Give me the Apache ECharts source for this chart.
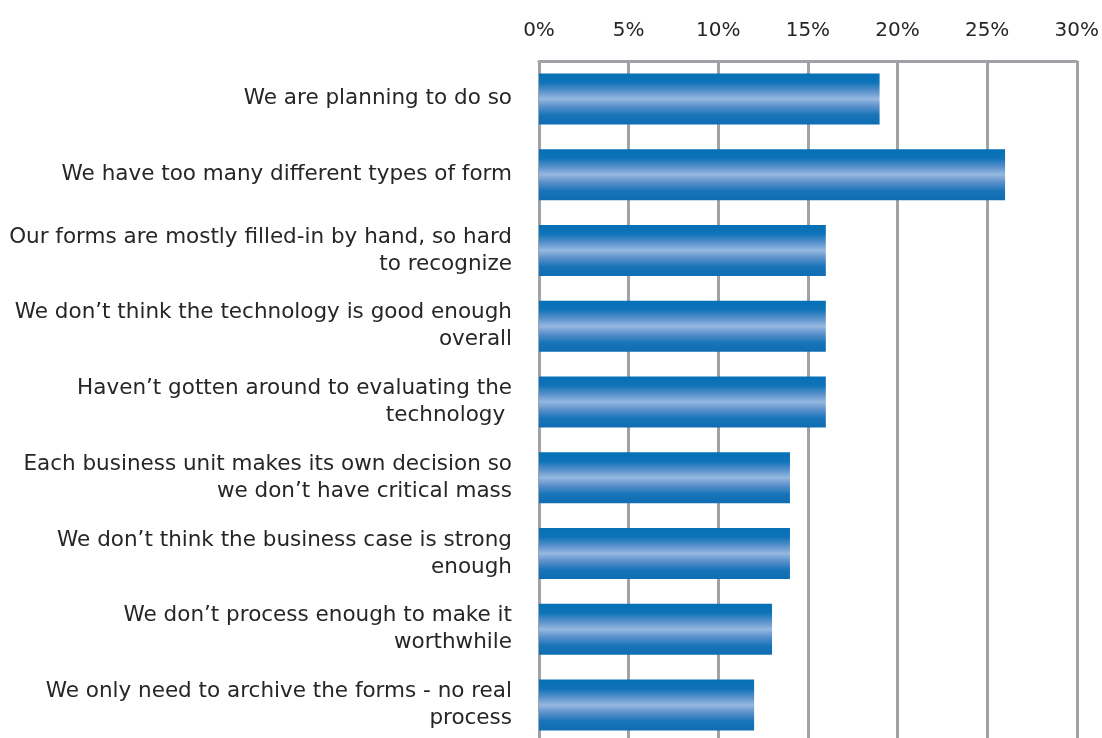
<!DOCTYPE html>
<html>
<head>
<meta charset="utf-8">
<script src="https://cdn.jsdelivr.net/npm/echarts@6/dist/echarts.min.js"></script>
<style>
  html, body { margin: 0; padding: 0; background: #ffffff; overflow: hidden; }
  #chart { width: 1102px; height: 743px; }
</style>
</head>
<body>
<div id="chart"></div>
<script>
// Reasons for not adopting forms processing technology (share of respondents, %)
const categories = [
  'We are planning to do so',
  'We have too many different types of form',
  'Our forms are mostly filled-in by hand, so hard\nto recognize',
  'We don\u2019t think the technology is good enough\noverall',
  'Haven\u2019t gotten around to evaluating the\ntechnology ',
  'Each business unit makes its own decision so\nwe don\u2019t have critical mass',
  'We don\u2019t think the business case is strong\nenough',
  'We don\u2019t process enough to make it\nworthwhile',
  'We only need to archive the forms - no real\nprocess'
];
const values = [19, 26, 16, 16, 16, 14, 14, 13, 12];
const axisMin = 0;
const axisMax = 30;
const axisStep = 5;

const gridGray = '#9fa3a8';
const textColor = '#262626';
const fontFamily = '"DejaVu Sans", "Open Sans", sans-serif';

// Glossy cylinder look: dark blue edges fading to a pale band in the middle
const barFill = new echarts.graphic.LinearGradient(0, 0, 0, 1, [
  { offset: 0, color: '#0570b6' },
  { offset: 0.18, color: '#0f73b8' },
  { offset: 0.35, color: '#5a92cc' },
  { offset: 0.5, color: '#96b8e1' },
  { offset: 0.65, color: '#5a90cb' },
  { offset: 0.82, color: '#1874b8' },
  { offset: 1, color: '#0e6db3' }
]);

const chart = echarts.init(document.getElementById('chart'), null, { renderer: 'canvas' });
chart.setOption({
  animation: false,
  backgroundColor: '#ffffff',
  grid: { left: 539, right: 25, top: 61, bottom: 0 },
  xAxis: {
    type: 'value',
    position: 'top',
    min: axisMin,
    max: axisMax,
    interval: axisStep,
    axisLine: { show: true, lineStyle: { color: gridGray, width: 3 } },
    axisTick: { show: false },
    splitLine: { show: true, lineStyle: { color: gridGray, width: 3 } },
    axisLabel: {
      margin: 20,
      color: textColor,
      fontFamily: fontFamily,
      fontSize: 20,
      formatter: v => v + '%'
    }
  },
  yAxis: {
    type: 'category',
    inverse: true,
    data: categories,
    axisLine: { show: false },
    axisTick: { show: false },
    splitLine: { show: false },
    axisLabel: {
      margin: 27,
      color: textColor,
      fontFamily: fontFamily,
      fontSize: 21.5,
      lineHeight: 27,
      align: 'right'
    }
  },
  series: [{
    type: 'bar',
    data: values,
    barWidth: 51,
    itemStyle: { color: barFill }
  }]
});
</script>
</body>
</html>
